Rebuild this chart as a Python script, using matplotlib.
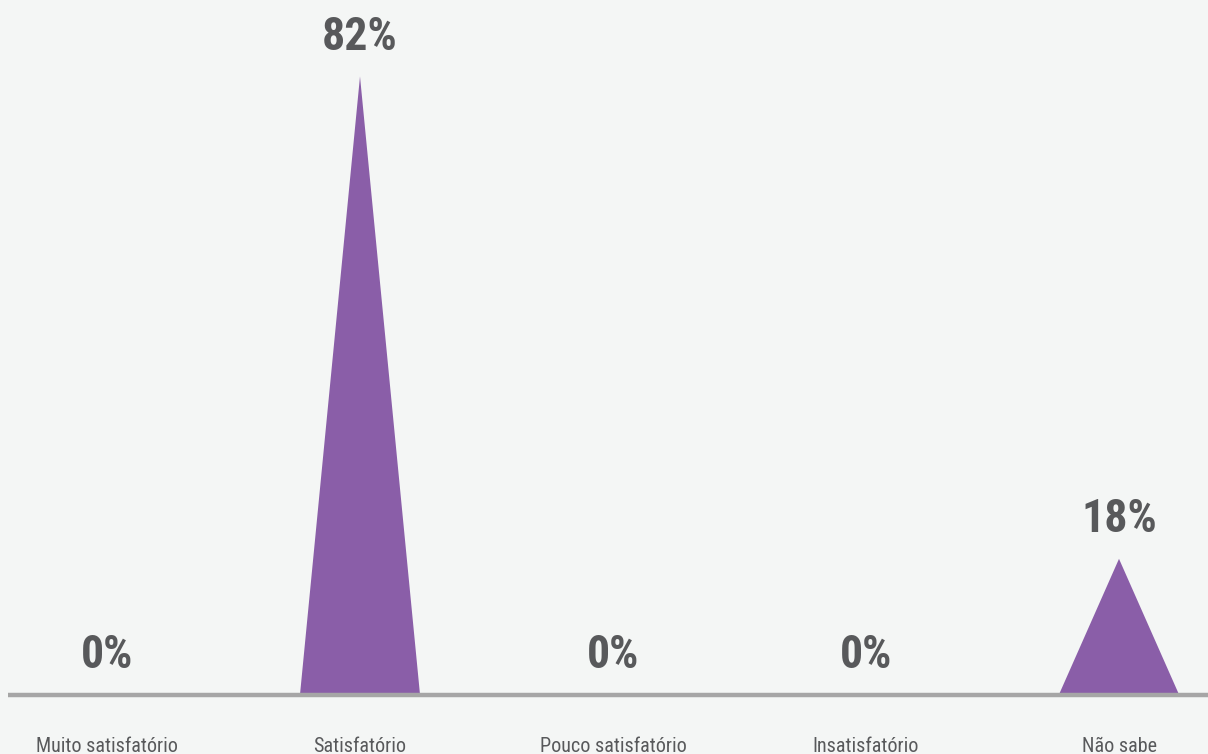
import matplotlib
matplotlib.use("Agg")
import matplotlib.pyplot as plt
from matplotlib import font_manager as fm
import matplotlib.transforms as mtransforms

categories = ["Muito satisfatório", "Satisfatório", "Pouco satisfatório", "Insatisfatório", "Não sabe"]
values = [0, 82, 0, 0, 18]
value_labels = ["0%", "82%", "0%", "0%", "18%"]

names = {f.name for f in fm.fontManager.ttflist}
fams = [f for f in ["Liberation Sans Narrow", "Roboto Condensed", "Open Sans Condensed", "Liberation Sans"] if f in names] + ["DejaVu Sans"]

bg = "#f4f6f5"
purple = "#8a5ea8"
textc = "#58595b"

fig = plt.figure(figsize=(12.08, 7.54), dpi=100, facecolor=bg)
ax = fig.add_axes([8/1208, 59.5/754, 1200/1208, 694.5/754])
ax.set_facecolor(bg)

w = 120/253
for i, v in enumerate(values):
    if v > 0:
        ax.fill([i - w/2, i, i + w/2], [0, v, 0], color=purple, lw=0, zorder=2)
    ax.annotate(value_labels[i], xy=(i, v), xytext=(0, 12.5), textcoords="offset points",
                ha="center", va="bottom", fontsize=33, fontweight="bold", color=textc,
                family=fams, zorder=3)

ax.set_xlim(-99/253, 4 + 89/253)
ax.set_ylim(0, 694.5/7.537)
ax.axhline(0, color="#a6a6a6", lw=3.2, zorder=4, clip_on=False, solid_capstyle="butt")
for s in ax.spines.values():
    s.set_visible(False)
ax.set_xticks([])
ax.set_yticks([])

trans = mtransforms.blended_transform_factory(ax.transData, fig.transFigure)
for i, c in enumerate(categories):
    ax.text(i, 8/754, c, transform=trans, ha="center", va="center", fontsize=14.5,
            color=textc, family=fams, clip_on=False)

fig.savefig("out.png", dpi=100, facecolor=bg)
